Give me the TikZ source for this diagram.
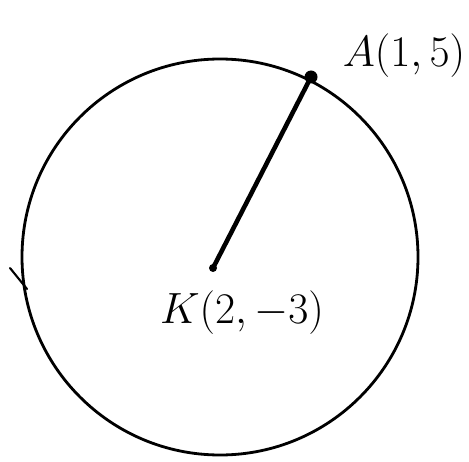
\documentclass[tikz,border=0pt]{standalone}
\usepackage{amsmath, amssymb}
\usetikzlibrary{calc}

\tikzset{
  lbl/.style={font=\fontsize{24}{28}\selectfont, inner sep=0pt},
  dot/.style={circle, fill, inner sep=0pt}
}

\begin{document}
\begin{tikzpicture}[x=0.02cm, y=-0.02cm, line cap=round]
  \useasboundingbox (0,0) rectangle (469,462);
  % circle
  \draw[line width=1.6pt] (220,257) circle (198);
  \draw[line width=1.2pt] (10,268) -- (27,289);
  % center and point on the circle
  \node[dot, minimum size=0.16cm] (K) at (213,268) {};
  \node[dot, minimum size=0.26cm] (A) at (311,77) {};
  \draw[line width=2.6pt] (K.center) -- (A.center);
  % labels
  \node[lbl] (Alabel) at (404,56) {$A(1,5)$};
  \node[lbl] (Klabel) at (242,313) {$K(2,-3)$};
\end{tikzpicture}
\end{document}
